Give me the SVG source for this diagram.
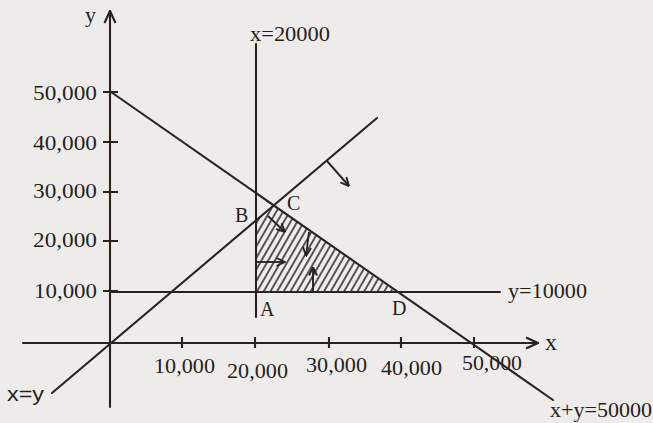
<svg xmlns="http://www.w3.org/2000/svg" width="653" height="423" viewBox="0 0 653 423">
<style>
.ln{stroke:#2b2220;stroke-width:2.1;fill:none;stroke-linecap:round}
.tk{stroke:#2b2220;stroke-width:2.1;fill:none}
.ar{stroke:#2b2220;stroke-width:1.9;fill:none;marker-end:url(#ah)}
.t{font-family:"Liberation Serif","Times New Roman",serif;font-size:22px;fill:#261f1d}
.s{font-family:"Liberation Sans",Arial,sans-serif;font-size:21px;fill:#261f1d}
.pt{font-family:"Liberation Serif","Times New Roman",serif;font-size:20px;fill:#261f1d}
</style>
<defs>
<marker id="ah" viewBox="0 0 10 10" refX="9.5" refY="5" markerWidth="10" markerHeight="10" markerUnits="userSpaceOnUse" orient="auto">
<path d="M1,1 L9.5,5 L1,9" fill="none" stroke="#2b2220" stroke-width="1.9"/>
</marker>
<marker id="axh" viewBox="0 0 14 14" refX="13" refY="7" markerWidth="14" markerHeight="14" markerUnits="userSpaceOnUse" orient="auto">
<path d="M1,1.5 L13,7 L1,12.5" fill="none" stroke="#2b2220" stroke-width="2.2"/>
</marker>
<pattern id="hatch" patternUnits="userSpaceOnUse" width="5.8" height="10" patternTransform="rotate(30)">
<line x1="2.9" y1="-1" x2="2.9" y2="11" stroke="#2b2220" stroke-width="1.5"/>
</pattern>
</defs>
<rect width="653" height="423" fill="#edecea"/>

<g id="feasible-region">
<polygon points="256,292 256,219 274,206 396,292" fill="url(#hatch)"/>
</g>

<g id="axes">
<line class="ln" x1="110" y1="407" x2="110" y2="11" style="marker-end:url(#axh)"/>
<line class="ln" x1="23" y1="343" x2="538" y2="343" style="marker-end:url(#axh)"/>
<path class="tk" d="M103,92H118M103,142H118M103,192H118M103,241H118M103,291H118"/>
<path class="tk" d="M182,337V348M255,337V348M329,337V348M401,337V348M474,337V348"/>
<text class="t" x="85" y="22">y</text>
<text class="t" x="545" y="350" style="font-size:24px">x</text>
<g text-anchor="end">
<text class="t" x="97" y="100" textLength="64" lengthAdjust="spacingAndGlyphs">50,000</text>
<text class="t" x="97" y="150" textLength="64" lengthAdjust="spacingAndGlyphs">40,000</text>
<text class="t" x="97" y="198" textLength="64" lengthAdjust="spacingAndGlyphs">30,000</text>
<text class="t" x="97" y="247" textLength="64" lengthAdjust="spacingAndGlyphs">20,000</text>
<text class="t" x="97" y="298" textLength="63" lengthAdjust="spacingAndGlyphs">10,000</text>
</g>
<text class="t" x="154" y="373" textLength="61" lengthAdjust="spacingAndGlyphs">10,000</text>
<text class="t" x="227" y="378" textLength="61" lengthAdjust="spacingAndGlyphs">20,000</text>
<text class="t" x="306" y="372" textLength="61" lengthAdjust="spacingAndGlyphs">30,000</text>
<text class="t" x="381" y="375" textLength="61" lengthAdjust="spacingAndGlyphs">40,000</text>
<text class="t" x="462" y="370" textLength="60" lengthAdjust="spacingAndGlyphs">50,000</text>
</g>

<g id="connectors">
<line id="line-x20000" class="ln" x1="256" y1="44" x2="256" y2="317"/>
<line id="line-y10000" class="ln" x1="110" y1="292" x2="500" y2="292"/>
<line id="line-xy50000" class="ln" x1="111" y1="92" x2="553" y2="400"/>
<line id="line-xeqy" class="ln" x1="52" y1="393" x2="377" y2="118"/>
<line class="ar" x1="327" y1="161" x2="349" y2="186"/>
<line class="ar" x1="268" y1="216" x2="285" y2="232"/>
<line class="ar" x1="309" y1="232" x2="306" y2="256"/>
<line class="ar" x1="257" y1="262" x2="285" y2="262"/>
<line class="ar" x1="313" y1="292" x2="313" y2="267"/>
</g>

<g id="line-labels">
<text class="t" x="250" y="41" textLength="80" lengthAdjust="spacingAndGlyphs">x=20000</text>
<text class="t" x="508" y="298" textLength="79" lengthAdjust="spacingAndGlyphs">y=10000</text>
<text class="s" x="7" y="401" textLength="37" lengthAdjust="spacingAndGlyphs">x=y</text>
<text class="t" x="550" y="417" textLength="102" lengthAdjust="spacingAndGlyphs">x+y=50000</text>
</g>

<g id="point-A"><text class="pt" x="260" y="316">A</text></g>
<g id="point-B"><text class="pt" x="235" y="222">B</text></g>
<g id="point-C"><text class="pt" x="287" y="210">C</text></g>
<g id="point-D"><text class="pt" x="392" y="315">D</text></g>
</svg>
